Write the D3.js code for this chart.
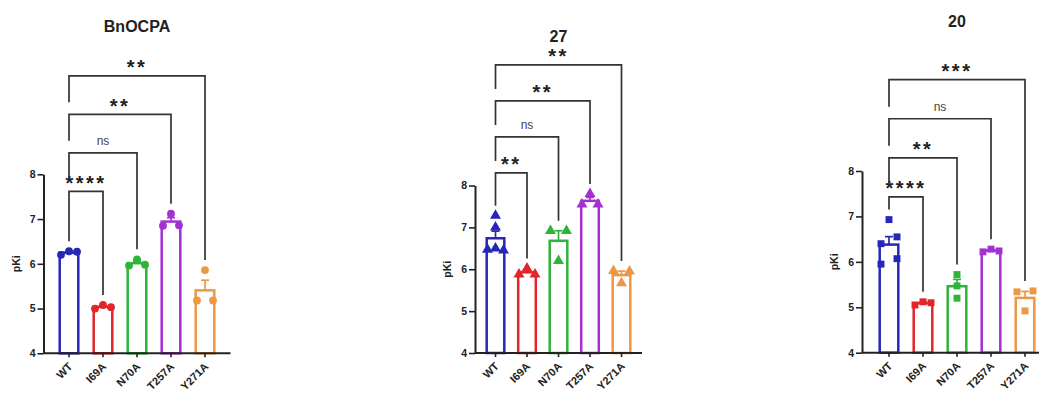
<!DOCTYPE html>
<html>
<head>
<meta charset="utf-8">
<script src="https://cdn.jsdelivr.net/npm/d3@7"></script>
<style>
  body { margin: 0; background: #fff; }
  svg { display: block; font-family: "Liberation Sans", Arial, sans-serif; }
</style>
</head>
<body>
<svg id="chart" width="1039" height="396"></svg>
<script>
var categories = ["WT", "I69A", "N70A", "T257A", "Y271A"];
var colors = ["#2626b8", "#e2252b", "#2db53a", "#a530d2", "#ec9844"];
var titles = ["BnOCPA", "27", "20"];
var yTicks = [4, 5, 6, 7, 8];

// individual pKi values per mutant, left to right as plotted
var bnocpaValues = [[6.20, 6.28, 6.27], [5.00, 5.08, 5.03], [5.96, 6.10, 5.98], [6.85, 7.12, 6.86], [5.18, 5.86, 5.18]];
var c27Values = [[7.28, 7.00, 6.47, 6.50, 6.45], [5.88, 6.02, 5.88], [6.92, 6.20, 6.92], [7.55, 7.80, 7.55], [5.96, 5.67, 5.95]];
var c20Values = [[6.93, 6.40, 6.55, 5.95, 6.07], [5.05, 5.12, 5.10], [5.72, 5.47, 5.20], [6.22, 6.28, 6.24], [5.34, 4.92, 5.36]];

// WT vs I69A, N70A, T257A, Y271A
var bnocpaSig = ["****", "ns", "**", "**"];
var c27Sig = ["**", "ns", "**", "**"];
var c20Sig = ["****", "**", "ns", "***"];

var svg = d3.select("#chart");

var panels = [
    { title: titles[0], values: bnocpaValues, sig: bnocpaSig, symbol: d3.symbolCircle,
      axisX: 43.5, yBottom: 353.3, yTop: 174.3, step: 34, bw: 21, firstCenter: 69, titleY: 32 },
    { title: titles[1], values: c27Values, sig: c27Sig, symbol: d3.symbolTriangle,
      axisX: 475, yBottom: 353, yTop: 185.5, step: 31.5, bw: 20, firstCenter: 495.5, titleY: 42 },
    { title: titles[2], values: c20Values, sig: c20Sig, symbol: d3.symbolSquare,
      axisX: 862, yBottom: 352.7, yTop: 171, step: 34, bw: 21, firstCenter: 889, titleY: 27 }
];

panels.forEach(drawPanel);

// put close points side by side like a prism scatter
function spread(vals, y) {
    var idx = vals.map(function (v, i) { return i; }).sort(function (a, b) { return vals[b] - vals[a]; });
    var rows = [];
    idx.forEach(function (i) {
        var last = rows[rows.length - 1];
        if (last && Math.abs(y(vals[last[0]]) - y(vals[i])) < 7.5) last.push(i);
        else rows.push([i]);
    });
    var off = vals.map(function () { return 0; });
    rows.forEach(function (r) {
        r.sort(function (a, b) { return a - b; });
        if (r.length == 2) { off[r[0]] = -8; off[r[1]] = 8; }
        if (r.length >= 3) r.forEach(function (i, k) { off[i] = (k - (r.length - 1) / 2) * 8; });
    });
    return off;
}

function drawPanel(p) {
    var n = categories.length;
    var pi = 1 - p.bw / p.step;
    var po = (p.firstCenter - p.bw / 2 - p.axisX) / p.step;
    var width = p.step * (n - pi + 2 * po);

    var x = d3.scaleBand()
        .domain(categories)
        .range([p.axisX, p.axisX + width])
        .paddingInner(pi)
        .paddingOuter(po);

    var y = d3.scaleLinear()
        .domain([4, 8])
        .range([p.yBottom, p.yTop]);

    var g = svg.append("g");

    var stats = p.values.map(function (vals, i) {
        var m = d3.mean(vals);
        var sem = d3.deviation(vals) / Math.sqrt(vals.length);
        return { cat: categories[i], color: colors[i], vals: vals, mean: m, sem: sem, max: d3.max(vals) };
    });

    // bars
    g.selectAll(".bar")
        .data(stats)
        .enter().append("rect")
        .attr("class", "bar")
        .attr("x", function (d) { return x(d.cat) + 1.2; })
        .attr("y", function (d) { return y(d.mean); })
        .attr("width", x.bandwidth() - 2.4)
        .attr("height", function (d) { return y(4) - y(d.mean); })
        .attr("fill", "#fff")
        .attr("stroke", function (d) { return d.color; })
        .attr("stroke-width", 2.5);

    // SEM, upper half only
    var err = g.selectAll(".err").data(stats).enter().append("g")
        .attr("stroke", function (d) { return d.color; })
        .attr("stroke-width", 1.7);
    err.append("line")
        .attr("x1", function (d) { return x(d.cat) + x.bandwidth() / 2; })
        .attr("x2", function (d) { return x(d.cat) + x.bandwidth() / 2; })
        .attr("y1", function (d) { return y(d.mean); })
        .attr("y2", function (d) { return y(d.mean + d.sem); });
    err.append("line")
        .attr("x1", function (d) { return x(d.cat) + x.bandwidth() / 2 - 4; })
        .attr("x2", function (d) { return x(d.cat) + x.bandwidth() / 2 + 4; })
        .attr("y1", function (d) { return y(d.mean + d.sem); })
        .attr("y2", function (d) { return y(d.mean + d.sem); });

    // points
    var sym = d3.symbol().type(p.symbol).size(p.symbol === d3.symbolTriangle ? 52 : 48);
    stats.forEach(function (d) {
        var off = spread(d.vals, y);
        g.selectAll(null)
            .data(d.vals)
            .enter().append("path")
            .attr("d", sym)
            .attr("transform", function (v, i) {
                return "translate(" + (x(d.cat) + x.bandwidth() / 2 + off[i]) + "," + y(v) + ")";
            })
            .attr("fill", d.color);
    });

    // axes
    var yAxis = g.append("g")
        .attr("transform", "translate(" + p.axisX + ",0)")
        .call(d3.axisLeft(y).tickValues(yTicks).tickFormat(d3.format("d")).tickSize(6).tickPadding(2).tickSizeOuter(0));
    var xAxis = g.append("g")
        .attr("transform", "translate(0," + p.yBottom + ")")
        .call(d3.axisBottom(x).tickSize(4).tickSizeOuter(0));

    [yAxis, xAxis].forEach(function (a) {
        a.select(".domain").attr("stroke", "#222").attr("stroke-width", 2);
        a.selectAll(".tick line").attr("stroke", "#222").attr("stroke-width", 1.6);
        a.selectAll("text").attr("fill", "#222").attr("font-size", 10.5).attr("font-weight", "bold")
            .attr("font-family", "'Liberation Sans', Arial, sans-serif");
    });
    xAxis.select(".domain").attr("d", "M" + p.axisX + ",0H" + (p.axisX + width));
    xAxis.selectAll("text")
        .attr("x", 0).attr("y", 0).attr("dy", null)
        .attr("text-anchor", "end")
        .attr("font-size", 11)
        .attr("transform", "translate(4,14) rotate(-45)");

    g.append("text")
        .attr("transform", "translate(" + (p.axisX - 24) + "," + ((p.yTop + p.yBottom) / 2) + ") rotate(-90)")
        .attr("text-anchor", "middle")
        .attr("font-size", 10.5)
        .attr("font-weight", "bold")
        .attr("fill", "#222")
        .text("pKi");

    g.append("text")
        .attr("x", x(categories[0]) + (x(categories[n - 1]) - x(categories[0])) / 2 + x.bandwidth() / 2)
        .attr("y", p.titleY)
        .attr("text-anchor", "middle")
        .attr("font-size", 16)
        .attr("font-weight", "bold")
        .attr("fill", "#222")
        .text(p.title);

    // significance brackets, WT against each mutant
    var maxAll = d3.max(stats, function (d) { return d.max; });
    var wtX = x(categories[0]) + x.bandwidth() / 2;
    p.sig.forEach(function (label, k) {
        var target = stats[k + 1];
        var tx = x(target.cat) + x.bandwidth() / 2;
        var by = y(maxAll + 0.5 + k * 0.86);
        var leftEnd = k == 0 ? y(stats[0].max) - 10 : y(maxAll + 0.5 + (k - 1) * 0.86) - 12;
        var rightEnd = y(target.max) - 10;

        g.append("path")
            .attr("d", "M" + wtX + "," + leftEnd + "V" + by + "H" + tx + "V" + rightEnd)
            .attr("fill", "none")
            .attr("stroke", "#333")
            .attr("stroke-width", 1.7);

        var t = g.append("text")
            .attr("x", (wtX + tx) / 2)
            .attr("text-anchor", "middle")
            .text(label);
        if (label == "ns") {
            t.attr("y", by - 8).attr("font-size", 12).attr("fill", "#444");
        } else {
            t.attr("y", by - 1.5).attr("font-size", 20).attr("font-weight", "bold")
                .attr("letter-spacing", 2.5).attr("fill", "#222");
        }
    });
}
</script>
</body>
</html>
